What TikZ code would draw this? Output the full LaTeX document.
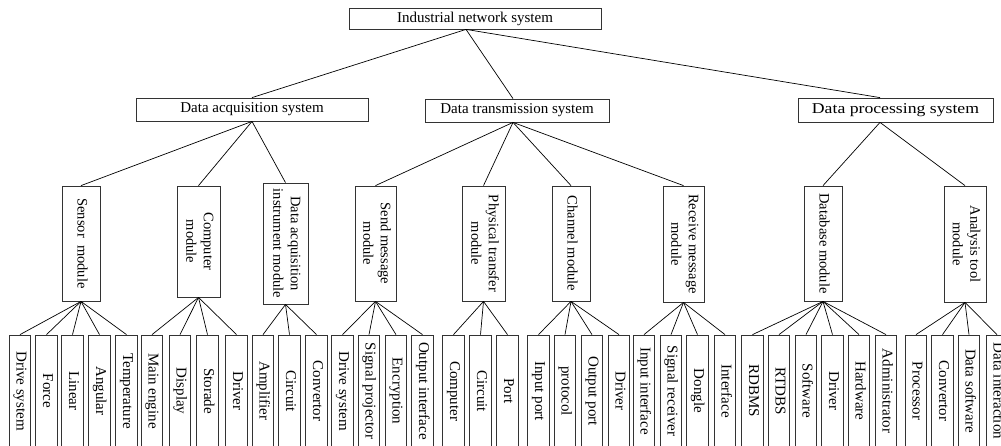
\documentclass[tikz,border=0pt]{standalone}
\usepackage{fontspec}
\setmainfont{Liberation Serif}
\newcommand{\vt}[1]{\rotatebox{-90}{\begin{tabular}{@{}c@{}}#1\end{tabular}}}
\begin{document}
\begin{tikzpicture}[x=1pt,y=-1pt,
  box/.style={draw=black!80,line width=0.8pt,inner sep=0pt,fill=white,font=\fontsize{15}{17.5}\selectfont},
  mbox/.style={box,font=\fontsize{14.5}{17.5}\selectfont},
  leaf/.style={box,minimum width=21.5pt,minimum height=112pt},
  con/.style={draw=black,line width=0.7pt}]
\useasboundingbox (0,0) rectangle (1001,445);
\clip (0,0) rectangle (1001,445);
% level 1
\node[box,minimum width=252pt,minimum height=21pt] (top) at (475,18.5) {Industrial network system};
% level 2
\node[box,minimum width=232pt,minimum height=23pt] (da) at (252,109.5) {Data acquisition system};
\node[box,minimum width=184pt,minimum height=23pt] (dt) at (517,110.5) {Data transmission system};
\node[box,minimum width=195pt,minimum height=24pt] (dp) at (895.5,110) {\scalebox{1.18}[1]{Data processing system}};
\draw[con] ([xshift=-9pt]top.south) -- (da.north);
\draw[con] ([xshift=-9pt]top.south) -- ([xshift=-4pt]dt.north);
\draw[con] ([xshift=-9pt]top.south) -- ([xshift=-15.5pt]dp.north);
% level 3
\node[mbox,minimum width=38pt,minimum height=115pt] (s1) at (81,243.5) {\vt{Sensor\ \ module}};
\node[mbox,minimum width=43pt,minimum height=111pt] (s2) at (198.5,241.5) {\vt{Computer\\module}};
\node[mbox,minimum width=45pt,minimum height=121pt] (s3) at (285.5,243.5) {\vt{Data acquisition\\instrument module}};
\node[mbox,minimum width=41pt,minimum height=115pt] (t1) at (375.5,243.5) {\vt{Send message\\module}};
\node[mbox,minimum width=43pt,minimum height=115pt] (t2) at (483.5,243.5) {\vt{Physical transfer\\module}};
\node[mbox,minimum width=38pt,minimum height=115pt] (t3) at (571,243.5) {\vt{Channel module}};
\node[mbox,minimum width=41pt,minimum height=116pt] (t4) at (683.5,244) {\vt{Receive message\\module}};
\node[mbox,minimum width=38pt,minimum height=115pt] (p1) at (823,243.5) {\vt{Database module}};
\node[mbox,minimum width=42pt,minimum height=116pt] (p2) at (965,244) {\vt{Analysis tool\\module}};
\foreach \c in {s1,s2,s3} \draw[con] (da.south) -- (\c.north);
\foreach \c in {t1,t2,t3,t4} \draw[con] ([xshift=-4pt]dt.south) -- (\c.north);
\foreach \c in {p1,p2} \draw[con] ([xshift=-15.5pt]dp.south) -- (\c.north);
% leaves
\foreach \x/\t/\p [count=\i] in {
  20/Drive system/s1, 46.5/Force/s1, 72.5/Linear/s1, 99.5/Angular/s1, 126.5/Temperature/s1,
  152/Main engine/s2, 180/Display/s2, 207.5/Storade/s2, 236.5/Driver/s2,
  263/Amplifier/s3, 289.5/Circuit/s3, 316.5/Convertor/s3,
  342.5/Drive system/t1, 369/Signal projector/t1, 396/Encryption/t1, 422.5/Output interface/t1,
  453.5/Computer/t2, 480.5/Circuit/t2, 507.5/Port/t2,
  538.5/Input port/t3, 565/protocol/t3, 592/Output port/t3, 619/Driver/t3,
  644/Input interface/t4, 671/Signal receiver/t4, 697.5/Dongle/t4, 725/Interface/t4,
  752.5/RDBMS/p1, 779/RTDBS/p1, 806/Software/p1, 832.5/Driver/p1, 859/Hardware/p1, 886/Administrator/p1,
  916/Processor/p2, 942.5/Convertor/p2, 969/Data software/p2, 997/Data interaction/p2} {
  \node[leaf] (l\i) at (\x,391) {\vt{\t}};
  \draw[con] (\p.south) -- (l\i.north);
}
\end{tikzpicture}
\end{document}
